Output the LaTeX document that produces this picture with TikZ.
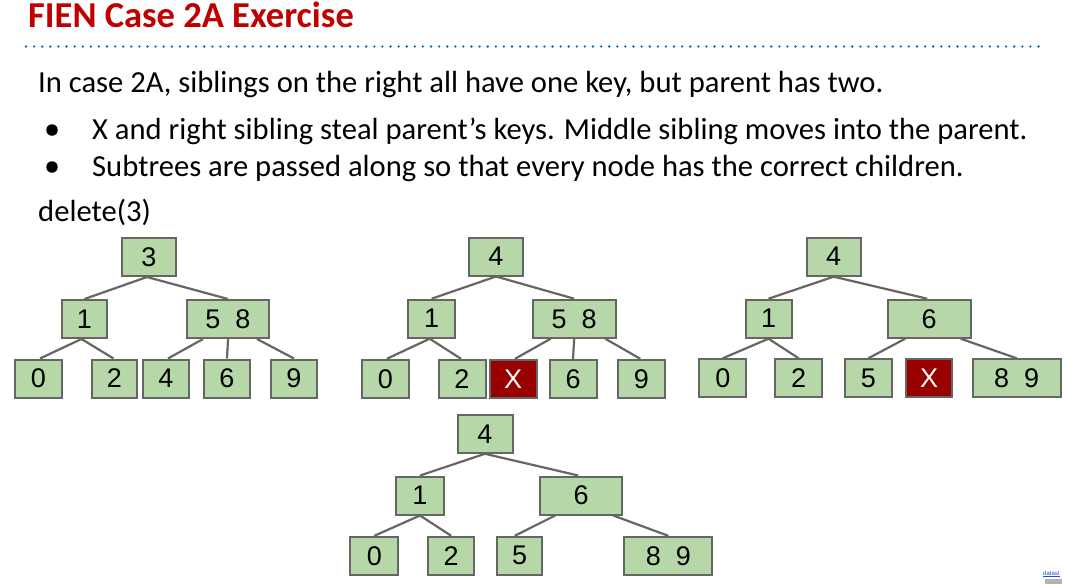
\documentclass[tikz,border=0pt]{standalone}
\usepackage{fontspec}
\setmainfont{Carlito}
\newfontfamily\arialf{Liberation Sans}
\usetikzlibrary{calc}
\definecolor{keyfill}{RGB}{182,215,168}
\definecolor{keyline}{RGB}{102,102,102}
\definecolor{delfill}{RGB}{153,0,0}
\definecolor{titlered}{RGB}{192,0,0}
\definecolor{dotblue}{RGB}{0,112,192}
\definecolor{linkblue}{RGB}{17,85,204}
\begin{document}
\begin{tikzpicture}[x=1pt,y=-1pt,
  key/.style={draw=keyline, fill=keyfill, line width=2pt, inner sep=0pt,
    minimum height=38pt, font=\arialf\fontsize{27}{27}\selectfont, text=black},
  delkey/.style={key, fill=delfill, text=white},
  link/.style={draw=keyline, line width=2.2pt},
  txt/.style={anchor=base west, inner sep=0pt, font=\fontsize{30.6}{34}\selectfont, text=black},
  bullet/.style={circle, fill=black, inner sep=0pt, minimum size=11.5pt}]
\useasboundingbox (0,0) rectangle (1065,584);
\fill[white] (0,0) rectangle (1065,584);
% header
\node[txt, font=\bfseries\fontsize{36.5}{38}\selectfont, text=titlered] (title) at (28,27.5) {FIEN Case 2A Exercise};
\coordinate (dl) at (26,46.5);
\coordinate (dr) at (1042,46.5);
\draw[dotblue, line width=2.6pt, line cap=round, dash pattern=on 0pt off 8.1pt] (dl) -- (dr);
\node[txt] (l1) at (38,92) {In case 2A, siblings on the right all have one key, but parent has two.};
\node[bullet] (b1dot) at (52,130) {};
\node[txt] (l2) at (92,139) {X and right sibling steal parent’s keys. Middle sibling moves into the parent.};
\node[bullet] (b2dot) at (52,167) {};
\node[txt] (l3) at (92,176) {Subtrees are passed along so that every node has the correct children.};
\node[txt] (l4) at (38,221) {delete(3)};
% tree 1
\node[key, minimum width=54] (a3) at (149,257) {3};
\node[key, minimum width=45] (a1) at (84.5,319) {1};
\node[key, minimum width=82] (a58) at (228,319) {5\hspace{15pt}8};
\node[key, minimum width=47] (a0) at (38.5,378.5) {0};
\node[key, minimum width=45] (a2) at (114.5,378.5) {2};
\node[key, minimum width=46] (a4) at (166,378.5) {4};
\node[key, minimum width=46] (a6) at (227,378.5) {6};
\node[key, minimum width=46] (a9) at (294,378.5) {9};
\draw[link] ($(a3.south)+(-2,0)$) -- (a1.north);
\draw[link] ($(a3.south)+(-2,0)$) -- (a58.north);
\draw[link] ($(a1.south)+(-3,0)$) -- ($(a0.north)+(1.5,0)$);
\draw[link] ($(a1.south)+(-3,0)$) -- ($(a2.north)+(-1,0)$);
\draw[link] ($(a58.south)+(-25,0)$) -- ($(a4.north)+(2,0)$);
\draw[link] (a58.south) -- (a6.north);
\draw[link] ($(a58.south)+(29,0)$) -- (a9.north);
% tree 2
\node[key, minimum width=54] (b4) at (496,256.5) {4};
\node[key, minimum width=47] (b1) at (431.7,318.7) {1};
\node[key, minimum width=83] (b58) at (574.2,318.7) {5\hspace{15pt}8};
\node[key, minimum width=47] (b0) at (385.3,378.8) {0};
\node[key, minimum width=47] (b2) at (462,378.8) {2};
\node[delkey, minimum width=47] (bX) at (513,378.8) {X};
\node[key, minimum width=47] (b6) at (573,378.8) {6};
\node[key, minimum width=47] (b9) at (641.3,378.8) {9};
\draw[link] (b4.south) -- (b1.north);
\draw[link] (b4.south) -- (b58.north);
\draw[link] ($(b1.south)+(-2,0)$) -- ($(b0.north)+(1.5,0)$);
\draw[link] ($(b1.south)+(-2,0)$) -- ($(b2.north)+(-1,0)$);
\draw[link] ($(b58.south)+(-23.5,0)$) -- ($(bX.north)+(2,0)$);
\draw[link] (b58.south) -- (b6.north);
\draw[link] ($(b58.south)+(31,0)$) -- ($(b9.north)+(-1,0)$);
% tree 3
\node[key, minimum width=54] (c4) at (833.7,256.7) {4};
\node[key, minimum width=46] (c1) at (768.5,318.7) {1};
\node[key, minimum width=83] (c6) at (929.2,318.7) {6};
\node[key, minimum width=47] (c0) at (722.8,378.3) {0};
\node[key, minimum width=47] (c2) at (798.7,378.3) {2};
\node[key, minimum width=47] (c5) at (868.3,378.3) {5};
\node[delkey, minimum width=46] (cX) at (929.2,378.3) {X};
\node[key, minimum width=88] (c89) at (1016.7,378.3) {8\hspace{15pt}9};
\draw[link] (c4.south) -- (c1.north);
\draw[link] (c4.south) -- ($(c6.north)+(-2,0)$);
\draw[link] (c1.south) -- (c0.north);
\draw[link] (c1.south) -- (c2.north);
\draw[link] ($(c6.south)+(-24,0)$) -- (c5.north);
\draw[link] ($(c6.south)+(31.5,0)$) -- (c89.north);
% tree 4
\node[key, minimum width=55] (d4) at (485,433.8) {4};
\node[key, minimum width=48] (d1) at (420,495.5) {1};
\node[key, minimum width=82] (d6) at (581.2,495.5) {6};
\node[key, minimum width=48] (d0) at (374.3,555.8) {0};
\node[key, minimum width=46] (d2) at (451.2,555.8) {2};
\node[key, minimum width=45] (d5) at (519.7,555.8) {5};
\node[key, minimum width=88] (d89) at (668.3,555.8) {8\hspace{15pt}9};
\draw[link] (d4.south) -- (d1.north);
\draw[link] (d4.south) -- ($(d6.north)+(-3,0)$);
\draw[link] (d1.south) -- (d0.north);
\draw[link] (d1.south) -- (d2.north);
\draw[link] ($(d6.south)+(-26,0)$) -- ($(d5.north)+(-5,0)$);
\draw[link] ($(d6.south)+(32,0)$) -- (d89.north);
% corner link
\node[anchor=base west, inner sep=0pt, text=linkblue, font=\arialf\fontsize{6}{6}\selectfont] (lnk) at (1043,575) {\underline{datast}};
\fill[gray!60] (1045,579) rectangle (1062,584);
\end{tikzpicture}
\end{document}
